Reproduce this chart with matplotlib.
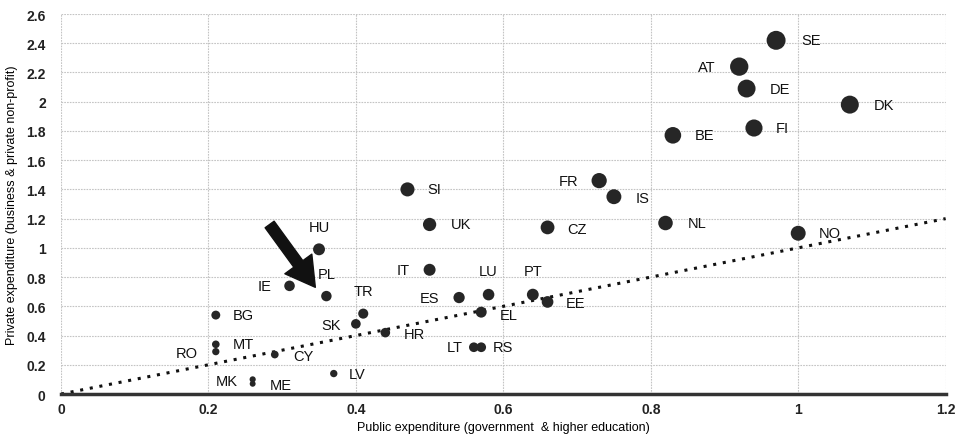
import matplotlib.pyplot as plt

plt.rcParams["font.family"] = ["Liberation Sans", "DejaVu Sans"]

countries = ["SE", "AT", "DE", "DK", "FI", "BE", "FR", "IS", "SI", "UK", "NL", "CZ",
             "NO", "HU", "IT", "LU", "PT", "EE", "EL", "ES", "LT", "RS", "IE", "PL",
             "TR", "SK", "HR", "BG", "MT", "RO", "CY", "LV", "MK", "ME"]
public = [0.97, 0.92, 0.93, 1.07, 0.94, 0.83, 0.73, 0.75, 0.47, 0.50, 0.82, 0.66,
          1.00, 0.35, 0.50, 0.58, 0.64, 0.66, 0.57, 0.54, 0.56, 0.57, 0.31, 0.36,
          0.41, 0.40, 0.44, 0.21, 0.21, 0.21, 0.29, 0.37, 0.26, 0.26]
private = [2.42, 2.24, 2.09, 1.98, 1.82, 1.77, 1.46, 1.35, 1.40, 1.16, 1.17, 1.14,
           1.10, 0.99, 0.85, 0.68, 0.68, 0.63, 0.56, 0.66, 0.32, 0.32, 0.74, 0.67,
           0.55, 0.48, 0.42, 0.54, 0.34, 0.29, 0.27, 0.14, 0.10, 0.07]

# label placement: (dx, dy) in points, horizontal alignment
label_pos = {
    "SE": (18, 0, "left"), "AT": (-17, 0, "right"), "DE": (17, 0, "left"),
    "DK": (17, 0, "left"), "FI": (16, 0, "left"), "BE": (16, 0, "left"),
    "FR": (-15, 0, "right"), "IS": (16, -1, "left"), "SI": (14, 0, "left"),
    "UK": (15, 0, "left"), "NL": (16, 0, "left"), "CZ": (14, -1, "left"),
    "NO": (15, 0, "left"), "HU": (0, 16, "center"), "IT": (-14, 0, "right"),
    "LU": (0, 17, "center"), "PT": (0, 17, "center"), "EE": (13, -1, "left"),
    "EL": (13, -2, "left"), "ES": (-14, 0, "right"), "LT": (-8, 0, "right"),
    "RS": (8, 0, "left"), "IE": (-13, 0, "right"), "PL": (0, 16, "center"),
    "TR": (0, 16, "center"), "SK": (-11, -1, "right"), "HR": (13, -1, "left"),
    "BG": (12, 0, "left"), "MT": (12, 0, "left"), "RO": (-13, -1, "right"),
    "CY": (13, -1, "left"), "LV": (11, 0, "left"), "MK": (-11, -1, "right"),
    "ME": (12, -1, "left"),
}

x_ticks = [0, 0.2, 0.4, 0.6, 0.8, 1.0, 1.2]
y_ticks = [0, 0.2, 0.4, 0.6, 0.8, 1.0, 1.2, 1.4, 1.6, 1.8, 2.0, 2.2, 2.4, 2.6]

fig = plt.figure(figsize=(9.62, 4.39), dpi=100)
ax = fig.add_axes([0.0634, 0.1002, 0.9196, 0.8656])

# bubble area proportional to total R&D spend
sizes = [55 * (a + b) for a, b in zip(public, private)]
ax.scatter(public, private, s=sizes, color="#262626", zorder=4, linewidths=0)

for c, xv, yv in zip(countries, public, private):
    dx, dy, ha = label_pos[c]
    ax.annotate(c, (xv, yv), xytext=(dx, dy), textcoords="offset points",
                ha=ha, va="center", fontsize=10.5, color="#111111", zorder=5)

# parity line
ax.plot([0, 1.2], [0, 1.2], linestyle=(0, (1, 2.2)), color="#111111", lw=2.2, zorder=3)

# arrow pointing at PL
ax.annotate("", xy=(0.345, 0.73), xytext=(0.283, 1.16),
            arrowprops=dict(arrowstyle="simple,head_length=1.3,head_width=1.5,tail_width=0.5",
                            color="#111111", mutation_scale=16, shrinkA=0, shrinkB=0),
            zorder=6)

ax.set_xlim(0, 1.2)
ax.set_ylim(0, 2.6)
ax.set_xticks(x_ticks)
ax.set_yticks(y_ticks)
ax.set_xticklabels(["0", "0.2", "0.4", "0.6", "0.8", "1", "1.2"])
ax.set_yticklabels(["0", "0.2", "0.4", "0.6", "0.8", "1", "1.2", "1.4", "1.6", "1.8",
                    "2", "2.2", "2.4", "2.6"])
ax.tick_params(length=0, labelsize=10)
ax.tick_params(axis="x", pad=6)
ax.tick_params(axis="y", pad=11)
for t in ax.get_xticklabels() + ax.get_yticklabels():
    t.set_fontweight("bold")
    t.set_color("#222222")

ax.grid(True, color="#c4c4c4", linestyle=(0, (1.5, 1)), lw=0.8, zorder=0)
for side in ["top", "right", "left"]:
    ax.spines[side].set_visible(False)
ax.spines["bottom"].set_linewidth(2.5)
ax.spines["bottom"].set_color("#333333")
ax.spines["bottom"].set_zorder(3)

ax.set_xlabel("Public expenditure (government  & higher education)", fontsize=9, labelpad=3)
ax.set_ylabel("Private expenditure (business & private non-profit)", fontsize=9, labelpad=6)

fig.savefig("out.png", dpi=100)
